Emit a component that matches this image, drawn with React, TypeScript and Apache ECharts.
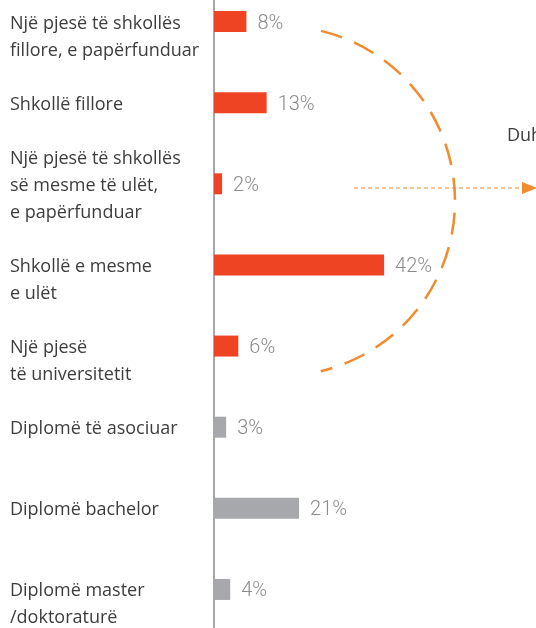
import React, { useEffect, useRef } from "react";
import * as echarts from "echarts";

const categories: string[] = [
  "Një pjesë të shkollës\nfillore, e papërfunduar",
  "Shkollë fillore",
  "Një pjesë të shkollës\nsë mesme të ulët,\ne papërfunduar",
  "Shkollë e mesme\ne ulët",
  "Një pjesë\ntë universitetit",
  "Diplomë të asociuar",
  "Diplomë bachelor",
  "Diplomë master\n/doktoraturë",
];
const values: number[] = [8, 13, 2, 42, 6, 3, 21, 4];
const groups: string[] = ["nodegree", "nodegree", "nodegree", "nodegree", "nodegree", "degree", "degree", "degree"];
const sideNote = "Duh";

const RED = "#ee4423";
const GREY = "#a7a8ab";
const ORANGE = "#f28a2e";
const OFF = 19; // chart div is shifted up by this many pixels

export default function App() {
  const ref = useRef<HTMLDivElement>(null);
  useEffect(() => {
    if (!ref.current) return;
    const chart = echarts.init(ref.current, null, { renderer: "svg" });
    const cx = 280, cy = 201 + OFF, r = 175;
    chart.setOption({
      animation: false,
      grid: { left: 214, top: 0, height: 649, width: 243 },
      xAxis: { type: "value", min: 0, max: 60, show: false },
      yAxis: {
        type: "category",
        inverse: true,
        data: categories,
        axisTick: { show: false },
        axisLine: { show: true, lineStyle: { color: "#8a8a8a", width: 1.5 } },
        axisLabel: {
          interval: 0,
          align: "left",
          margin: 204,
          fontFamily: "Open Sans",
          fontSize: 18,
          lineHeight: 27,
          color: "#3d3d3d",
          formatter: (v: string) => (v.split("\n").length % 2 === 0 ? "\n" + v : v),
        },
      },
      series: [
        {
          type: "bar",
          barWidth: 21,
          data: values.map((v, i) => ({
            value: v,
            itemStyle: { color: groups[i] === "degree" ? GREY : RED },
          })),
          label: {
            show: true,
            position: "right",
            distance: 11,
            formatter: "{c}%",
            fontFamily: "Roboto",
            fontWeight: 300,
            fontSize: 20,
            color: "#8c8c8c",
          },
        },
      ],
      graphic: [
        {
          type: "arc",
          shape: { cx, cy, r, startAngle: -1.334, endAngle: 1.336, clockwise: true },
          style: { stroke: ORANGE, lineWidth: 2.5, lineDash: [22, 13], fill: "none" },
          silent: true,
        },
        {
          type: "line",
          shape: { x1: 354, y1: 188 + OFF, x2: 522, y2: 188 + OFF },
          style: { stroke: ORANGE, lineWidth: 1.2, lineDash: [4, 3] },
          silent: true,
        },
        {
          type: "polygon",
          shape: { points: [[522, 182 + OFF], [537, 188 + OFF], [522, 194 + OFF]] },
          style: { fill: ORANGE },
          silent: true,
        },
        {
          type: "text",
          x: 507,
          y: 134 + OFF,
          style: {
            text: sideNote,
            fontFamily: "Open Sans",
            fontSize: 18,
            fill: "#3d3d3d",
            verticalAlign: "middle",
          },
          silent: true,
        },
      ],
    });
    return () => chart.dispose();
  }, []);
  return (
    <div
      ref={ref}
      style={{ position: "fixed", left: 0, top: -OFF, width: 536, height: 628 + OFF + 2 }}
    />
  );
}
